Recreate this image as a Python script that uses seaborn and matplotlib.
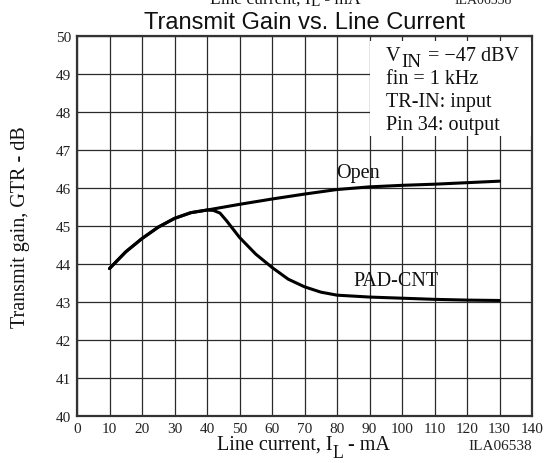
import matplotlib
matplotlib.use("Agg")
import matplotlib.pyplot as plt
import seaborn as sns
import pandas as pd
from matplotlib.patches import Rectangle

# Shared low-current segment (both configurations coincide up to ~40 mA)
shared_ma = [10, 15, 20, 25, 30, 35, 40]
shared_db = [43.88, 44.32, 44.67, 44.97, 45.20, 45.35, 45.42]

# "Open" configuration above 40 mA
open_ma = [50, 60, 70, 80, 90, 100, 110, 120, 130]
open_db = [45.57, 45.71, 45.84, 45.96, 46.03, 46.07, 46.10, 46.14, 46.18]

# "PAD-CNT" configuration above 40 mA
pad_ma = [42, 44, 46, 48, 50, 55, 60, 65, 70, 75, 80, 90, 100, 110, 120, 130]
pad_db = [45.41, 45.34, 45.14, 44.92, 44.70, 44.26, 43.91, 43.60, 43.40,
          43.26, 43.18, 43.13, 43.10, 43.07, 43.05, 43.04]

x_ticks = list(range(0, 141, 10))
y_ticks = list(range(40, 51))

conditions = ["fin = 1 kHz", "TR-IN: input", "Pin 34: output"]

df = pd.concat([
    pd.DataFrame({"current": shared_ma + open_ma, "gain": shared_db + open_db, "mode": "Open"}),
    pd.DataFrame({"current": shared_ma + pad_ma, "gain": shared_db + pad_db, "mode": "PAD-CNT"}),
])

sns.set_theme(style="white")
plt.rcParams["font.family"] = ["Liberation Serif", "DejaVu Serif"]

W, H = 547, 464
INK = "#111111"
FS = 14.5

fig = plt.figure(figsize=(W / 100, H / 100), dpi=100)
ax = fig.add_axes([77 / W, 1 - 417 / H, 455 / W, 380 / H])

sns.lineplot(data=df, x="current", y="gain", hue="mode",
             palette={"Open": "black", "PAD-CNT": "black"},
             linewidth=2.2, legend=False, ax=ax, zorder=5, sort=False,
             estimator=None)

ax.set_xlim(0, 140)
ax.set_ylim(40, 50)
ax.set_xticks(x_ticks)
ax.set_yticks(y_ticks)
ax.tick_params(axis="both", length=0, labelsize=11, colors="#222222", pad=4)
ax.set_xlabel("")
ax.set_ylabel("")
ax.grid(True, color="#2a2a2a", linewidth=0.9, zorder=1)
ax.set_axisbelow(True)
for s in ax.spines.values():
    s.set_color("#333333")
    s.set_linewidth(1.6)


def subscripted(x, y, transform, base, sub, rest, size, drop,
                sub_scale=0.88, sub_gap=0, rest_gap=0):
    """Write base + lowered subscript + rest as chained text pieces."""
    t0 = ax.text(x, y, base, transform=transform, fontsize=size, ha="left",
                 va="baseline", color=INK, zorder=4, clip_on=False)
    t1 = ax.annotate(sub, xy=(1, 0), xycoords=t0, xytext=(sub_gap, -drop),
                     textcoords="offset pixels", fontsize=size * sub_scale,
                     va="bottom", ha="left", color=INK, zorder=4)
    t2 = ax.annotate(rest, xy=(1, 0), xycoords=(t1, t0), xytext=(rest_gap, 0),
                     textcoords="offset pixels", fontsize=size,
                     va="bottom", ha="left", color=INK, zorder=4)
    return t0, t1, t2


# White panel holding the test conditions
ax.add_patch(Rectangle((90.3, 47.37), 49.45, 2.5, facecolor="white",
                       edgecolor="none", zorder=3))
subscripted(95.0, 49.36, ax.transData, "V", "IN", " = \u221247 dBV", FS, 5,
            sub_scale=0.95, sub_gap=1, rest_gap=2)
for i, line in enumerate(conditions):
    ax.text(95.0, 48.88 - i * 0.61, line, fontsize=FS, va="center",
            ha="left", zorder=4, color=INK)

ax.text(86.5, 46.42, "Open", fontsize=FS, ha="center", va="center", color=INK)
ax.text(98.2, 43.56, "PAD-CNT", fontsize=FS, ha="center", va="center", color=INK)

ax.set_title("Transmit Gain vs. Line Current", fontsize=17,
             family=["Liberation Sans", "DejaVu Sans"], pad=6, color=INK)

fig.text(21 / W, 0.5 * (1 - 37 / H + 1 - 417 / H), "Transmit gain, GTR - dB",
         rotation=90, fontsize=FS, ha="center", va="center", color=INK)

# Axis caption and figure code
subscripted(217 / W, 1 - 450 / H, fig.transFigure,
            "Line current, I", "L", " - mA", FS, 7)
fig.text(532 / W, 1 - 450 / H, "ILA06538", fontsize=11, ha="right",
         va="baseline", color="#222222")

# The same caption of the figure above, clipped by the page top
subscripted(210 / W, 1 - 4 / H, fig.transFigure,
            "Line current, I", "L", " - mA", 12.6, 1)
fig.text(512 / W, 1 - 4 / H, "ILA06538", fontsize=10, ha="right",
         va="baseline", color="#222222")

fig.savefig("out.png", dpi=100)
